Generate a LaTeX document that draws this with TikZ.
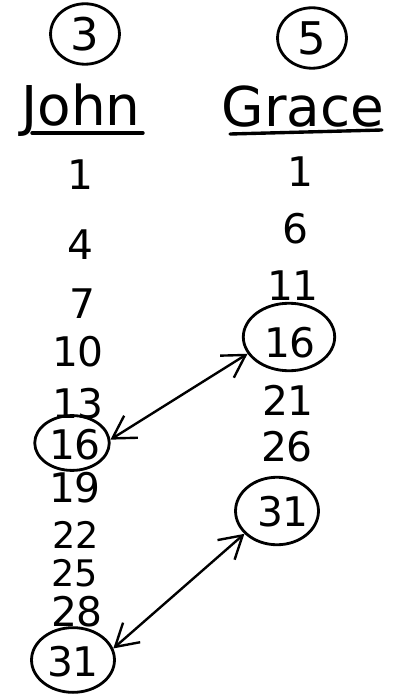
\documentclass[tikz,border=0pt]{standalone}
\usepackage{fontspec}
\setmainfont{DejaVu Sans}
\usepackage{tikz}
\usetikzlibrary{arrows.meta, positioning, shapes.geometric}

\begin{document}
\begin{tikzpicture}[
    x=0.025cm, y=-0.025cm,
    num/.style={font=\fontsize{29}{29}\selectfont, inner sep=0pt},
    small/.style={font=\fontsize{26}{26}\selectfont, inner sep=0pt},
    header/.style={font=\fontsize{39}{39}\selectfont, inner sep=0pt, anchor=base},
    ring/.style={ellipse, draw=black, line width=2pt, inner sep=0pt, minimum width=55pt, minimum height=40pt},
    tally/.style={ellipse, draw=black, line width=2pt, inner sep=0pt, minimum width=49pt, minimum height=43pt, font=\fontsize{32}{32}\selectfont},
    rule/.style={line width=2.4pt, line cap=round},
    arrow/.style={{Straight Barb[length=5.5mm, width=6.5mm]}-{Straight Barb[length=5.5mm, width=6.5mm]}, line width=1.7pt}
]
\useasboundingbox (0,0) rectangle (401,694);

% Headers
\node[tally] (three) at (85,34) {3};
\node[tally] (five) at (312,38) {5};
\node[header] (john) at (81,126) {John};
\node[header] (grace) at (303,127) {Grace};
\draw[rule] (32,133) -- (143,133);
\draw[rule] (230,134) -- (382,130);

% John
\node[num] (j1) at (80,175) {1};
\node[num] (j4) at (80,245) {4};
\node[num] (j7) at (82,304) {7};
\node[num] (j10) at (78,352) {10};
\node[num] (j13) at (78,404) {13};
\node[num] (j16) at (75,445) {16};
\node[num] (j19) at (75,488) {19};
\node[small] (j22) at (76,535) {22};
\node[small] (j25) at (75,573) {25};
\node[num] (j28) at (77,612) {28};
\node[num] (j31) at (73,662) {31};

% Grace
\node[num] (g1) at (300,172) {1};
\node[num] (g6) at (295,229) {6};
\node[num] (g11) at (293,286) {11};
\node[num] (g16) at (290,343) {16};
\node[num] (g21) at (288,400) {21};
\node[num] (g26) at (287,447) {26};
\node[num] (g31) at (283,512) {31};

% Rings
\node[ring, minimum width=53pt, minimum height=39pt] (rj16) at (72,443) {};
\node[ring, minimum width=59pt, minimum height=46pt] (rj31) at (73,660) {};
\node[ring, minimum width=65pt, minimum height=48pt] (rg16) at (289,337) {};
\node[ring, minimum width=59pt, minimum height=48pt] (rg31) at (277,511) {};

% Arrows
\draw[arrow] (rj16.5) -- (rg16.202);
\draw[arrow] (rj31.16) -- (rg31.215);

\end{tikzpicture}
\end{document}
